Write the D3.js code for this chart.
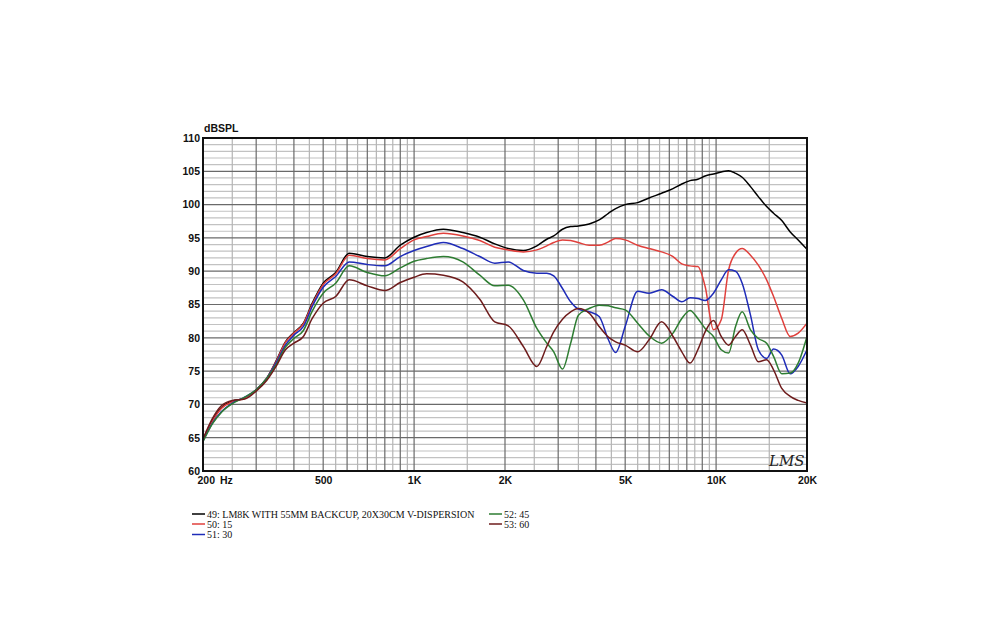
<!DOCTYPE html>
<html>
<head>
<meta charset="utf-8">
<script src="https://cdn.jsdelivr.net/npm/d3@7"></script>
<style>
    body { margin: 0; background: #fff; }
    svg { display: block; }
    .tick-label { font-family: Arial, "Liberation Sans", sans-serif; font-weight: bold; font-size: 10.5px; fill: #111; }
    .legend-text { font-family: "Liberation Serif", "Times New Roman", serif; font-size: 10px; fill: #111; }
</style>
</head>
<body>
<div id="chart"></div>
<script>
/*
* Frequency response, 5 off-axis angles (LMS plot)
*/

// frequencies the curves were read at (Hz)
var freqs = [200, 215, 230, 250, 275, 300, 325, 350, 375, 400, 430, 460, 500, 550, 610, 700, 800, 900,
    1000, 1100, 1250, 1450, 1650, 1850, 2050, 2300, 2550, 2750, 2900, 3100, 3300, 3500, 3800, 4100, 4400, 4650,
    5000, 5500, 6000, 6600, 7200, 7700, 8200, 8700, 9200, 9800, 10400, 11000, 11600, 12200, 13000, 13800,
    14700, 15500, 16500, 17600, 18700, 20000];

// dBSPL per curve
var spl49 = [64.7, 67.6, 69.5, 70.5, 70.9, 72.2, 73.9, 76.6, 79.4, 80.8, 82.2, 85.2, 88.2, 89.8, 92.7, 92.2, 92.0, 93.9,
    95.1, 95.8, 96.3, 95.8, 95.1, 94.1, 93.4, 93.1, 93.8, 94.8, 95.3, 96.3, 96.7, 96.8, 97.1, 97.7, 98.7, 99.4,
    100.0, 100.3, 101.0, 101.7, 102.4, 103.1, 103.6, 103.8, 104.3, 104.6, 104.9, 105.1, 104.7, 104.1, 102.7, 101.2,
    99.7, 98.7, 97.6, 95.9, 94.7, 93.3];
var spl50 = [64.6, 67.5, 69.4, 70.4, 70.9, 72.2, 73.9, 76.5, 79.3, 80.7, 82.1, 85.0, 88.0, 89.6, 92.4, 91.9, 91.7, 93.4,
    94.7, 95.2, 95.7, 95.3, 94.6, 93.6, 93.2, 92.9, 93.2, 93.8, 94.3, 94.7, 94.6, 94.3, 93.9, 93.9, 94.4, 94.9,
    94.7, 93.9, 93.4, 92.9, 92.2, 91.1, 90.8, 90.7, 87.7, 81.2, 82.7, 90.2, 92.7, 93.4, 92.4, 90.9,
    88.7, 86.2, 82.9, 80.2, 80.7, 82.2];
var spl51 = [64.5, 67.2, 68.9, 70.2, 71.1, 72.2, 73.9, 76.3, 78.9, 80.4, 81.7, 84.7, 87.6, 89.2, 91.4, 91.0, 90.8, 92.2,
    93.1, 93.7, 94.3, 93.4, 92.2, 91.2, 91.4, 90.1, 89.7, 89.7, 89.3, 87.4, 85.4, 84.3, 83.9, 83.2, 79.7, 77.8,
    81.7, 87.0, 86.7, 87.2, 86.2, 85.4, 86.0, 85.9, 85.6, 86.7, 88.7, 90.2, 90.0, 88.2, 83.4, 78.2,
    76.9, 78.3, 77.4, 74.6, 75.7, 78.2];
var spl52 = [64.4, 67.1, 68.8, 70.1, 71.1, 72.2, 73.9, 76.0, 78.6, 79.9, 81.1, 84.0, 86.7, 88.2, 90.8, 89.8, 89.3, 90.5,
    91.5, 91.9, 92.2, 91.4, 89.4, 87.8, 87.9, 85.7, 81.4, 79.2, 77.9, 75.3, 79.2, 83.4, 84.4, 84.9, 84.8, 84.5,
    84.2, 82.2, 80.3, 79.2, 80.7, 82.9, 84.1, 82.9, 81.4, 80.2, 78.2, 77.7, 81.7, 83.9, 81.2, 79.9,
    79.2, 77.2, 74.6, 74.7, 76.2, 80.2];
var spl53 = [64.8, 67.9, 69.8, 70.6, 70.8, 72.0, 73.6, 75.8, 78.2, 79.2, 80.2, 82.9, 85.2, 86.2, 88.7, 87.8, 87.1, 88.3,
    89.1, 89.6, 89.4, 88.4, 85.8, 82.4, 81.8, 78.7, 75.7, 78.7, 80.9, 82.8, 83.9, 84.4, 83.7, 81.7, 80.1, 79.4,
    78.9, 77.9, 79.7, 82.4, 80.2, 77.9, 76.2, 78.2, 80.9, 82.6, 80.2, 78.9, 80.2, 81.2, 78.9, 76.4,
    76.7, 75.2, 72.4, 71.2, 70.6, 70.2];

var seriesNames = ["49: LM8K WITH 55MM BACKCUP, 20X30CM V-DISPERSION", "50: 15", "51: 30", "52: 45", "53: 60"];
var seriesColors = ["#000000", "#e0403c", "#1f2cb8", "#2e7d32", "#6e1c1c"];
var seriesValues = [spl49, spl50, spl51, spl52, spl53];

var yTicks = [60, 65, 70, 75, 80, 85, 90, 95, 100, 105, 110];
var xTicks = [200, 500, 1000, 2000, 5000, 10000, 20000];
var xTickLabels = ["200", "500", "1K", "2K", "5K", "10K", "20K"];

var width = 1000, height = 640;
var plot = {left: 203, right: 807, top: 138, bottom: 471};

var svg = d3.select("#chart")
    .append("svg")
    .attr("width", width)
    .attr("height", height);

var x = d3.scaleLog()
    .domain([200, 20000])
    .range([plot.left, plot.right]);

var y = d3.scaleLinear()
    .domain([60, 110])
    .range([plot.bottom, plot.top]);

// grid lines - 50Hz steps below 1K, 500Hz steps up to 10K, then 15K
var vMinor = [], vMajor = [];
for (var f = 250; f < 1000; f += 50) {
    (f % 100 === 0 ? vMajor : vMinor).push(f);
}
for (f = 1000; f <= 10000; f += 500) {
    (f % 1000 === 0 ? vMajor : vMinor).push(f);
}
vMinor.push(15000);

var hMinor = [], hMajor = [];
for (var d = 61; d < 110; d++) {
    (d % 5 === 0 ? hMajor : hMinor).push(d);
}

var grid = svg.append("g").attr("class", "grid");

grid.selectAll(".hminor")
    .data(hMinor)
    .enter()
    .append("line")
    .attr("x1", plot.left).attr("x2", plot.right)
    .attr("y1", function (d) { return y(d); })
    .attr("y2", function (d) { return y(d); })
    .attr("stroke", "#c2c2c2")
    .attr("stroke-width", 1.2);

grid.selectAll(".vminor")
    .data(vMinor)
    .enter()
    .append("line")
    .attr("y1", plot.top).attr("y2", plot.bottom)
    .attr("x1", function (d) { return x(d); })
    .attr("x2", function (d) { return x(d); })
    .attr("stroke", "#b4b4b4")
    .attr("stroke-width", 1.2);

grid.selectAll(".hmajor")
    .data(hMajor)
    .enter()
    .append("line")
    .attr("x1", plot.left).attr("x2", plot.right)
    .attr("y1", function (d) { return y(d); })
    .attr("y2", function (d) { return y(d); })
    .attr("stroke", "#6a6a6a")
    .attr("stroke-width", 1.2);

grid.selectAll(".vmajor")
    .data(vMajor)
    .enter()
    .append("line")
    .attr("y1", plot.top).attr("y2", plot.bottom)
    .attr("x1", function (d) { return x(d); })
    .attr("x2", function (d) { return x(d); })
    .attr("stroke", "#6a6a6a")
    .attr("stroke-width", 1.2);

// curves
var line = d3.line()
    .x(function (d, i) { return x(freqs[i]); })
    .y(function (d) { return y(d); })
    .curve(d3.curveMonotoneX);

svg.append("g")
    .selectAll("path")
    .data(seriesValues)
    .enter()
    .append("path")
    .attr("d", function (d) { return line(d); })
    .attr("fill", "none")
    .attr("stroke", function (d, i) { return seriesColors[i]; })
    .attr("stroke-width", 1.5);

// frame
svg.append("rect")
    .attr("x", plot.left)
    .attr("y", plot.top)
    .attr("width", plot.right - plot.left)
    .attr("height", plot.bottom - plot.top)
    .attr("fill", "none")
    .attr("stroke", "#111")
    .attr("stroke-width", 2);

// Y axis
var yAxis = svg.append("g")
    .attr("transform", "translate(" + plot.left + ",0)")
    .call(d3.axisLeft(y).tickValues(yTicks).tickSize(0).tickPadding(3));
yAxis.select(".domain").remove();
yAxis.selectAll("text").attr("class", "tick-label").attr("font-family", null).attr("font-size", null);

svg.append("text")
    .attr("class", "tick-label")
    .attr("x", 204)
    .attr("y", 132)
    .text("dBSPL");

// X axis
var xAxis = svg.append("g")
    .attr("transform", "translate(0," + plot.bottom + ")")
    .call(d3.axisBottom(x).tickValues(xTicks).tickSize(0).tickPadding(6)
        .tickFormat(function (d, i) { return xTickLabels[i]; }));
xAxis.select(".domain").remove();
xAxis.selectAll("text").attr("class", "tick-label").attr("font-family", null).attr("font-size", null);
xAxis.selectAll("text")
    .filter(function (d) { return d === 200; })
    .attr("text-anchor", "start")
    .attr("x", -6);

svg.append("text")
    .attr("class", "tick-label")
    .attr("x", 220)
    .attr("y", 484)
    .text("Hz");

// LMS mark
svg.append("text")
    .attr("x", 769)
    .attr("y", 466)
    .attr("font-family", "'DejaVu Serif', serif")
    .attr("font-style", "italic")
    .attr("font-size", "15px")
    .attr("fill", "#222")
    .text("LMS");

// legend, two columns
var legendPos = [[192, 514], [192, 524], [192, 534.5], [489, 514], [489, 524]];

var legend = svg.append("g")
    .selectAll("g")
    .data(seriesNames)
    .enter()
    .append("g")
    .attr("transform", function (d, i) {
        return "translate(" + legendPos[i][0] + "," + legendPos[i][1] + ")";
    });

legend.append("line")
    .attr("x1", 0).attr("x2", 13)
    .attr("stroke", function (d, i) { return seriesColors[i]; })
    .attr("stroke-width", 1.5);

legend.append("text")
    .attr("class", "legend-text")
    .attr("x", 15)
    .attr("y", 3.5)
    .text(function (d) { return d; });
</script>
</body>
</html>
